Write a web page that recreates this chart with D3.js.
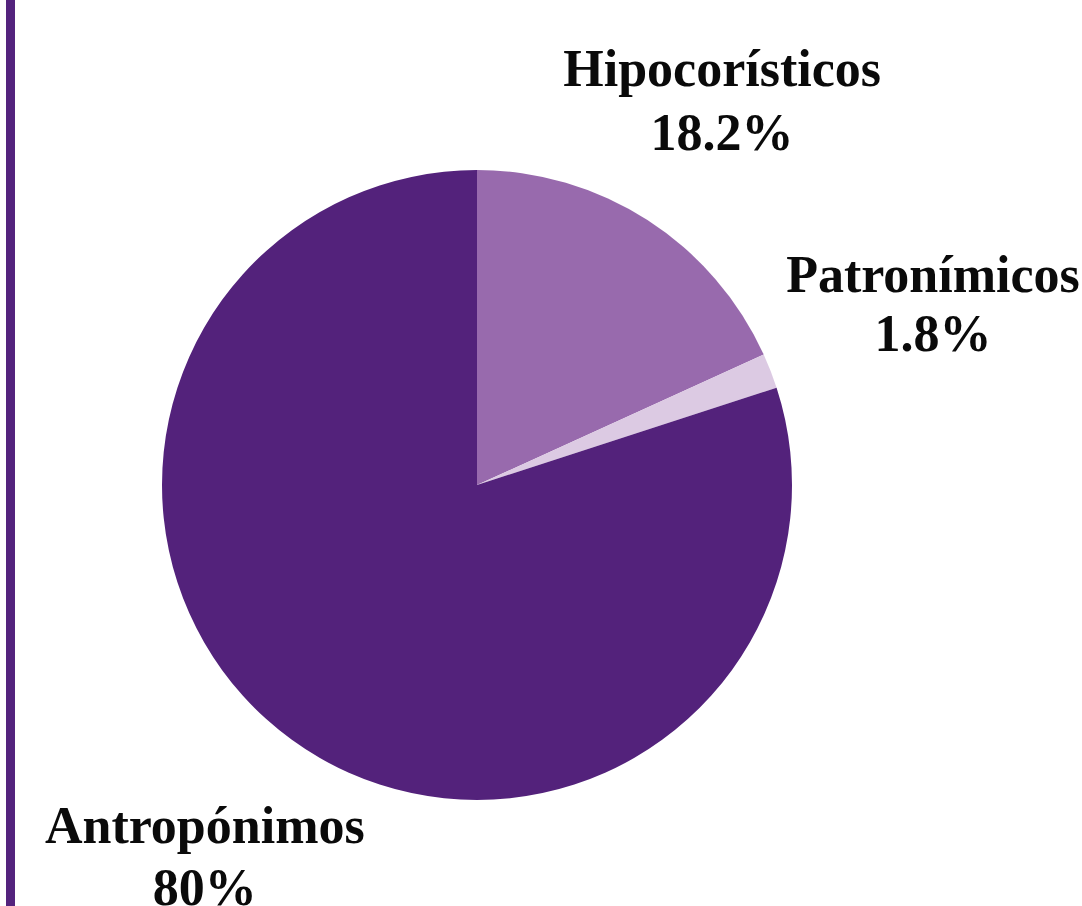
<!DOCTYPE html>
<html>
<head>
<meta charset="utf-8">
<script src="https://cdn.jsdelivr.net/npm/d3@7/dist/d3.min.js"></script>
<style>
  html, body { margin: 0; padding: 0; background: #ffffff; overflow: hidden; }
  svg { display: block; }
</style>
</head>
<body>
<script>
const categories = ["Hipocorísticos", "Patronímicos", "Antropónimos"];
const values = [18.2, 1.8, 80];
const valueLabels = ["18.2%", "1.8%", "80%"];
const colors = ["#986aad", "#dccae3", "#53227b"];

const W = 1082, H = 906;
const cx = 477, cy = 485, r = 315;

const svg = d3.select("body").append("svg")
  .attr("width", W).attr("height", H);

svg.append("rect").attr("x", 6).attr("y", 0).attr("width", 9).attr("height", H)
  .attr("fill", "#54237d");

const data = categories.map((c, i) => ({ name: c, value: values[i], label: valueLabels[i], color: colors[i] }));

const pie = d3.pie().value(d => d.value).sort(null);
const arcs = pie(data);
const arc = d3.arc().innerRadius(0).outerRadius(r);

const g = svg.append("g").attr("transform", `translate(${cx},${cy})`);

g.selectAll("path.slice").data(arcs).enter().append("path")
  .attr("class", "slice")
  .attr("d", arc)
  .attr("fill", d => d.data.color);

const labelFactor = [1.438, 1.553, 1.47];
const fontSize = 52;
const lineGap = [64, 59, 62];

const lab = g.selectAll("g.label").data(arcs).enter().append("g")
  .attr("class", "label")
  .attr("transform", (d, i) => {
    const a = (d.startAngle + d.endAngle) / 2;
    const rr = r * labelFactor[i];
    return `translate(${Math.sin(a) * rr},${-Math.cos(a) * rr})`;
  });

lab.append("text")
  .attr("text-anchor", "middle")
  .attr("y", (d, i) => -lineGap[i] / 2 + 0.35 * fontSize - 4)
  .attr("font-family", "'Liberation Serif', 'DejaVu Serif', serif")
  .attr("font-weight", "bold")
  .attr("font-size", fontSize)
  .attr("fill", "#0a0a0a")
  .text(d => d.data.name);

lab.append("text")
  .attr("text-anchor", "middle")
  .attr("y", (d, i) => lineGap[i] / 2 + 0.35 * fontSize - 4)
  .attr("font-family", "'Liberation Serif', 'DejaVu Serif', serif")
  .attr("font-weight", "bold")
  .attr("font-size", fontSize)
  .attr("fill", "#0a0a0a")
  .text(d => d.data.label);
</script>
</body>
</html>
